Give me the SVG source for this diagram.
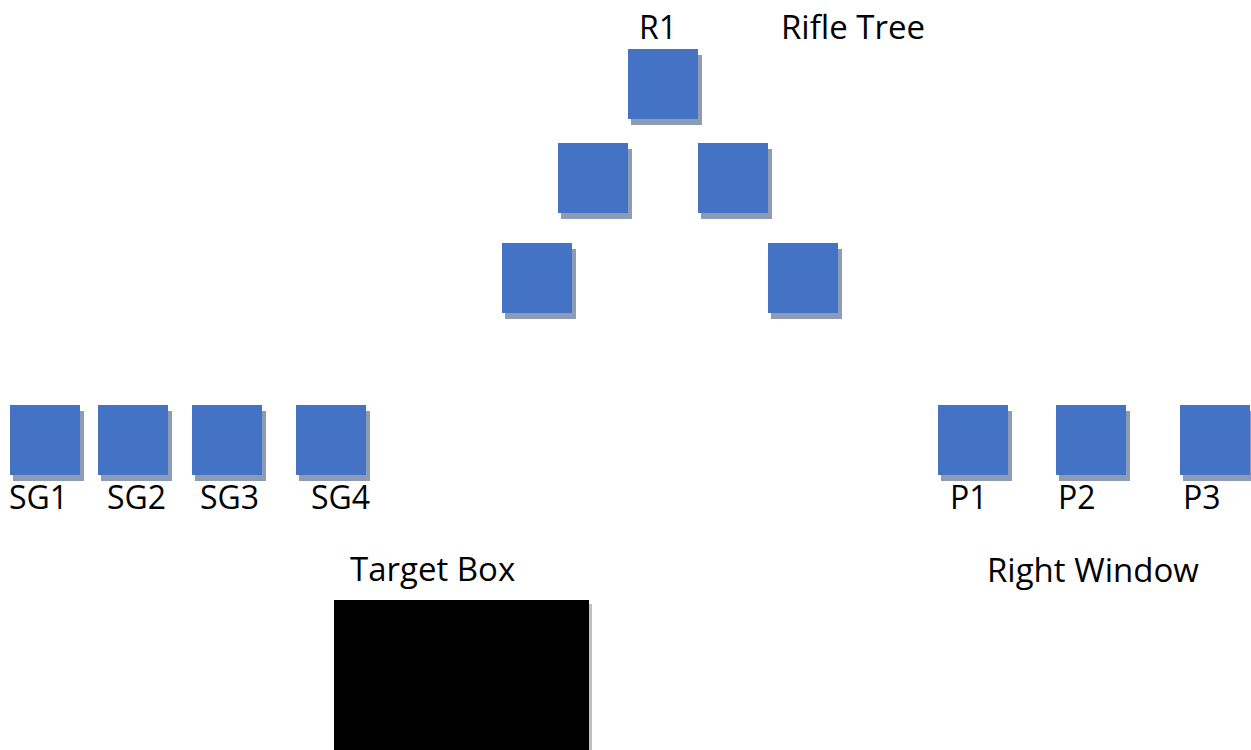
<svg xmlns="http://www.w3.org/2000/svg" width="1251" height="750" viewBox="0 0 1251 750">
<style>
.sh{fill:#8e9bb4}
.bx{fill:#4472c4}
.t{font-family:"Open Sans","Liberation Sans",sans-serif;font-size:32px;fill:#000}
.h{font-size:33px}
</style>
<rect width="1251" height="750" fill="#fff"/>
<g id="r1"><rect class="sh" x="631" y="55" width="71" height="70"/><rect class="bx" x="628" y="49" width="70" height="70"/><text class="t" x="639" y="39">R1</text></g>
<g id="rifle-tree-label"><text class="t h" x="781" y="39">Rifle Tree</text></g>
<g id="r2a"><rect class="sh" x="561" y="149" width="71" height="70"/><rect class="bx" x="558" y="143" width="70" height="70"/></g>
<g id="r2b"><rect class="sh" x="701" y="149" width="71" height="70"/><rect class="bx" x="698" y="143" width="70" height="70"/></g>
<g id="r3a"><rect class="sh" x="505" y="249" width="71" height="70"/><rect class="bx" x="502" y="243" width="70" height="70"/></g>
<g id="r3b"><rect class="sh" x="771" y="249" width="71" height="70"/><rect class="bx" x="768" y="243" width="70" height="70"/></g>
<g id="sg1"><rect class="sh" x="13" y="411" width="71" height="70"/><rect class="bx" x="10" y="405" width="70" height="70"/><text class="t" x="9" y="509">SG1</text></g>
<g id="sg2"><rect class="sh" x="101" y="411" width="71" height="70"/><rect class="bx" x="98" y="405" width="70" height="70"/><text class="t" x="107" y="509">SG2</text></g>
<g id="sg3"><rect class="sh" x="195" y="411" width="71" height="70"/><rect class="bx" x="192" y="405" width="70" height="70"/><text class="t" x="200" y="509">SG3</text></g>
<g id="sg4"><rect class="sh" x="299" y="411" width="71" height="70"/><rect class="bx" x="296" y="405" width="70" height="70"/><text class="t" x="311" y="509">SG4</text></g>
<g id="p1"><rect class="sh" x="941" y="411" width="71" height="70"/><rect class="bx" x="938" y="405" width="70" height="70"/><text class="t" x="950" y="509">P1</text></g>
<g id="p2"><rect class="sh" x="1059" y="411" width="71" height="70"/><rect class="bx" x="1056" y="405" width="70" height="70"/><text class="t" x="1058" y="509">P2</text></g>
<g id="p3"><rect class="sh" x="1183" y="411" width="71" height="70"/><rect class="bx" x="1180" y="405" width="70" height="70"/><text class="t" x="1183" y="509">P3</text></g>
<g id="right-window-label"><text class="t h" x="987" y="582">Right Window</text></g>
<g id="target-box"><text class="t h" x="350" y="581">Target Box</text><rect x="337" y="604" width="255" height="160" fill="#bfbfbf"/><rect x="334" y="600" width="255" height="160" fill="#000"/></g>
<g id="connectors"></g>
</svg>
